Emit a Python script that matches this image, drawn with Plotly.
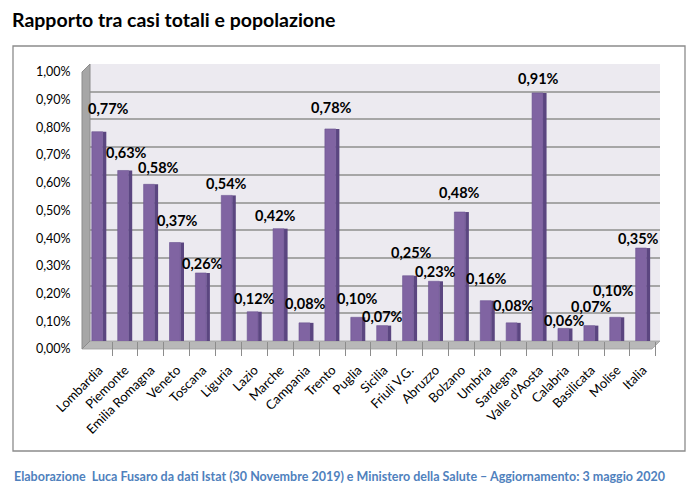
import plotly.graph_objects as go

# Dati: rapporto casi totali / popolazione (frazione)
regioni = ["Lombardia", "Piemonte", "Emilia Romagna", "Veneto", "Toscana", "Liguria",
           "Lazio", "Marche", "Campania", "Trento", "Puglia", "Sicilia", "Friuli V.G.",
           "Abruzzo", "Bolzano", "Umbria", "Sardegna", "Valle d'Aosta", "Calabria",
           "Basilicata", "Molise", "Italia"]
rapporto = [0.0077, 0.0063, 0.0058, 0.0037, 0.0026, 0.0054, 0.0012, 0.0042, 0.0008,
            0.0078, 0.0010, 0.0007, 0.0025, 0.0023, 0.0048, 0.0016, 0.0008, 0.0091,
            0.0006, 0.0007, 0.0010, 0.0035]
y_ticks = [0.0, 0.001, 0.002, 0.003, 0.004, 0.005, 0.006, 0.007, 0.008, 0.009, 0.010]

# spostamento delle etichette (px) come le mette excel nel grafico 3d
label_dy = [19, 14, 13, 18, 5, 8, 9, 9, 15, 17, 15, 5, 19, 6, 16, 18, 13, 10, 4, 15, 23, 6]
label_dx = [11, 4, 10, 3, 2, 0, 2, -3, 1, 1, 1, 1, 4, 2, 0, 1, 2, 1, 1, 2, -2, -2]

FONT = "Lato"
OFF = 8  # the page body has an 8px margin, so work in reference pixels minus 8
W, H = 699 - OFF, 492 - OFF
# plot area = back wall of the excel 3d chart (reference pixels)
P_L, P_R, P_T, P_B = 90, 660, 64, 341
ML, MT = P_L - OFF, P_T - OFF
MR, MB = W - (P_R - OFF), H - (P_B - OFF)
PW, PH = P_R - P_L, P_B - P_T
Y_MAX = 0.010
FRONT_DROP = 4 * Y_MAX / PH  # front faces of the columns sit ~4px below the back wall

def px_x(v):
    return (v - P_L) / PW

def px_y(v):
    return (P_B - v) / PH

fig = go.Figure()

# lato scuro delle colonne (effetto 3d)
fig.add_trace(go.Bar(
    x=regioni, y=rapporto, base=-FRONT_DROP, width=0.14, offset=0.14,
    marker=dict(color="#5B4680", line=dict(width=0)),
    cliponaxis=False, hoverinfo="skip", showlegend=False,
))
# faccia frontale
fig.add_trace(go.Bar(
    x=regioni, y=rapporto, base=-FRONT_DROP, width=0.42, offset=-0.28,
    marker=dict(color="#8064A2", line=dict(color="#6A5290", width=0.6)),
    cliponaxis=False, showlegend=False,
    hovertemplate="%{x}: %{y:.2%}<extra></extra>",
))

# etichette dei valori
annotations = []
for reg, val, dy, dx in zip(regioni, rapporto, label_dy, label_dx):
    annotations.append(dict(
        x=reg, y=val, text="<b>" + f"{val * 100:.2f}".replace(".", ",") + "%</b>",
        showarrow=False, xanchor="center", yanchor="middle",
        xshift=dx - 2, yshift=dy,
        font=dict(family=FONT, size=14.5, color="black"),
    ))

annotations.append(dict(
    text="<b>Elaborazione  Luca Fusaro da dati Istat (30 Novembre 2019) e Ministero della Salute – Aggiornamento: 3 maggio 2020</b>",
    xref="paper", yref="paper", x=px_x(12), y=px_y(476),
    xanchor="left", yanchor="middle", showarrow=False,
    font=dict(family=FONT, size=12.5, color="#4F81BD"),
))

shapes = [
    # cornice esterna
    dict(type="rect", xref="paper", yref="paper",
         x0=px_x(13), x1=px_x(685), y0=px_y(451), y1=px_y(46),
         line=dict(color="#8C8C8C", width=1.3), fillcolor="rgba(0,0,0,0)", layer="below"),
    # parete sinistra
    dict(type="path", xref="paper", yref="paper",
         path=f"M {px_x(82)} {px_y(349)} L {px_x(82)} {px_y(72)} L {px_x(90)} {px_y(64)} "
              f"L {px_x(90)} {px_y(341)} Z",
         fillcolor="#A6A6A6", line=dict(color="#8C8C8C", width=1), layer="above"),
    # pavimento
    dict(type="path", xref="paper", yref="paper",
         path=f"M {px_x(82)} {px_y(349)} L {px_x(90)} {px_y(341)} L {px_x(660)} {px_y(341)} "
              f"L {px_x(652)} {px_y(349)} Z",
         fillcolor="#B8B8B8", line=dict(color="#A0A0A0", width=0.8), layer="below"),
]

fig.update_layout(
    width=W, height=H,
    margin=dict(l=ML, r=MR, t=MT, b=MB),
    paper_bgcolor="white", plot_bgcolor="#ECEAF0",
    separators=",.",
    barmode="overlay",
    font=dict(family=FONT, size=11, color="black"),
    shapes=shapes,
    annotations=annotations,
    title=dict(text="<b>Rapporto tra casi totali e popolazione</b>",
               x=(12 - OFF) / W, xanchor="left", y=1 - (20 - OFF) / H, yanchor="middle",
               font=dict(family=FONT, size=19.5, color="black")),
)

fig.update_xaxes(
    range=[-0.35, 21.66], tickangle=-45,
    tickson="boundaries", ticks="outside", ticklen=14, tickcolor="#8C8C8C",
    ticklabelstandoff=18,
    showline=False, showgrid=False,
    tickfont=dict(family=FONT, size=13, color="black"),
)
fig.update_yaxes(
    range=[0, Y_MAX], tickvals=y_ticks, tickformat=".2%",
    showgrid=True, gridcolor="#A6A6A6", gridwidth=1.5,
    zeroline=False, showline=False,
    ticks="outside", ticklen=16, tickcolor="rgba(0,0,0,0)",
    ticklabelshift=8,
    tickfont=dict(family=FONT, size=12.5, color="black"),
)

fig.write_html("out.html")
